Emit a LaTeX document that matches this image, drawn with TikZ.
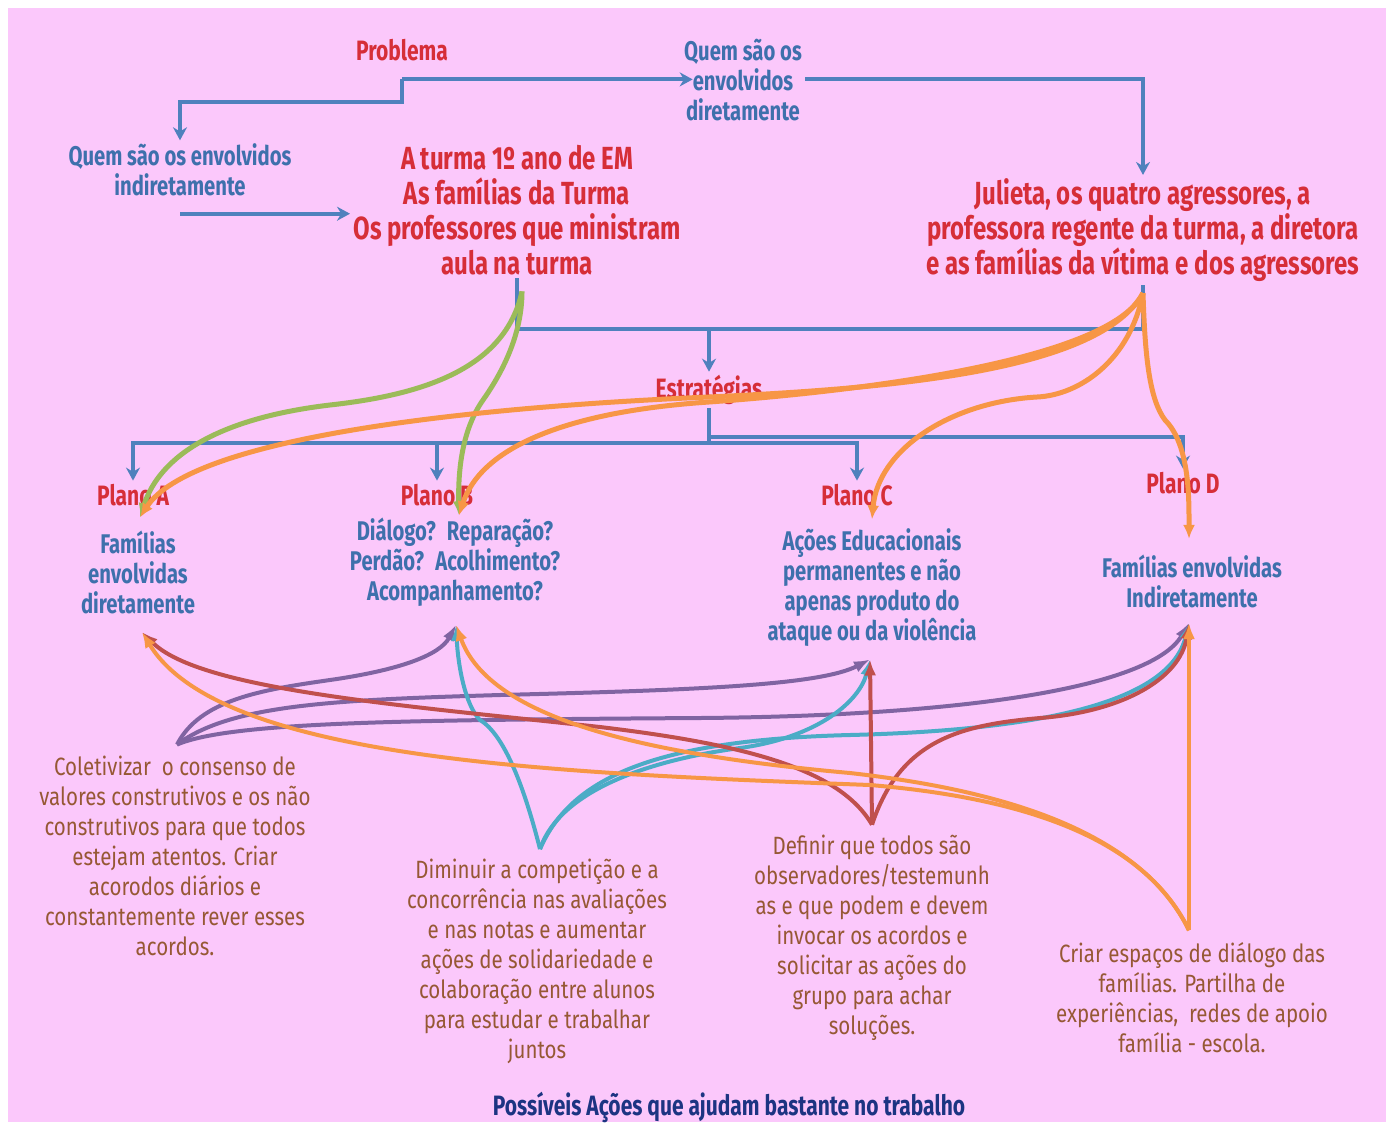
\documentclass[tikz,border=0pt]{standalone}
\usepackage{fontspec}
\setmainfont{Fira Sans}
\newfontfamily\headfont{Fira Sans}[FakeStretch=0.75]
\newfontfamily\handfont{Fira Sans}[FakeStretch=0.82]
\usetikzlibrary{arrows.meta,positioning}

\definecolor{bgpink}{RGB}{251,200,251}
\definecolor{linkblue}{RGB}{79,129,189}
\definecolor{headred}{RGB}{214,46,56}
\definecolor{textblue}{RGB}{62,112,172}
\definecolor{notebrown}{RGB}{150,88,52}
\definecolor{officegreen}{RGB}{155,187,89}
\definecolor{officeorange}{RGB}{247,150,70}
\definecolor{officepurple}{RGB}{128,100,162}
\definecolor{officered}{RGB}{192,80,77}
\definecolor{officeteal}{RGB}{75,172,198}
\definecolor{titleblue}{RGB}{28,52,130}

\tikzset{
  rail/.style={draw=linkblue,line width=4pt},
  link/.style={rail,-{Stealth[length=13pt,width=14pt]}},
  redhead/.style={font=\headfont\bfseries\fontsize{32}{35}\selectfont,text=headred,align=center},
  redsmall/.style={font=\headfont\bfseries\fontsize{28}{30}\selectfont,text=headred},
  bluehead/.style={font=\headfont\bfseries\fontsize{27}{30}\selectfont,text=textblue,align=center},
  note/.style={font=\handfont\fontsize{25}{30}\selectfont,text=notebrown,align=center},
  bigflow/.style={line width=5pt,-{Latex[length=14pt,width=12pt]}},
  flow/.style={line width=4pt,-{Latex[length=16pt,width=12pt]}},
}

\begin{document}
\begin{tikzpicture}[x=1pt,y=-1pt]
  \useasboundingbox (0,0) rectangle (1386,1122);
  %% background
  \fill[white] (0,0) rectangle (1386,1122);
  \fill[bgpink] (8,8) rectangle (1386,1122);

  %% who is involved
  \node[redsmall] (problema) at (402,50) {Problema};
  \node[bluehead] (quemdir) at (743,80) {Quem são os\\envolvidos\\diretamente};
  \node[bluehead] (quemind) at (180,170) {Quem são os envolvidos\\indiretamente};
  \node[redhead] (turma) at (517,210) {A turma 1º ano de EM\\As famílias da Turma\\Os professores que ministram\\aula na turma};
  \node[redhead] (julieta) at (1143,230) {Julieta, os quatro agressores, a\\professora regente da turma, a diretora\\e as famílias da vítima e dos agressores};

  %% strategies and plans
  \node[redsmall] (estrat) at (709,390) {Estratégias};
  \node[redsmall] (planoA) at (133,495) {Plano A};
  \node[redsmall] (planoB) at (437,495) {Plano B};
  \node[redsmall] (planoC) at (857,495) {Plano C};
  \node[redsmall] (planoD) at (1183,483) {Plano D};
  \node[bluehead] (famdir) at (138,572) {Famílias\\envolvidas\\diretamente};
  \node[bluehead] (dialogo) at (455,562) {Diálogo?~ Reparação?\\Perdão?~ Acolhimento?\\Acompanhamento?};
  \node[bluehead] (acoes) at (872,588) {Ações Educacionais\\permanentes e não\\apenas produto do\\ataque ou da violência};
  \node[bluehead] (famind) at (1192,581) {Famílias envolvidas\\Indiretamente};

  %% actions
  \node[note] (colet) at (175,856) {Coletivizar~ o consenso de\\valores construtivos e os não\\construtivos para que todos\\estejam atentos. Criar\\acorodos diários e\\constantemente rever esses\\acordos.};
  \node[note] (dimin) at (537,961) {Diminuir a competição e a\\concorrência nas avaliações\\e nas notas e aumentar\\ações de solidariedade e\\colaboração entre alunos\\para estudar e trabalhar\\juntos};
  \node[note] (defin) at (872,938) {Definir que todos são\\observadores/testemunh\\as e que podem e devem\\invocar os acordos e\\solicitar as ações do\\grupo para achar\\soluções.};
  \node[note] (criar) at (1192,998) {Criar espaços de diálogo das\\famílias. Partilha de\\experiências,~ redes de apoio\\família - escola.};
  \node[font=\headfont\bfseries\fontsize{28}{30}\selectfont,text=titleblue] (titulo) at (729,1107) {Possíveis Ações que ajudam bastante no trabalho};

  %% ports
  \coordinate[below=15pt of problema] (split);
  \coordinate[below=14pt of quemind] (qi);
  \coordinate[above=43pt of estrat] (toprail);
  \coordinate[below=35pt of estrat] (midrail);
  \coordinate[below=13pt of turma,xshift=5pt] (turma out);
  \coordinate[below=8pt of julieta] (julieta out);
  \coordinate[below=8pt of planoA,xshift=7pt] (planoA in);
  \coordinate[below=6pt of planoB,xshift=22pt] (planoB in);
  \coordinate[below=10pt of planoC,xshift=15pt] (planoC in);
  \coordinate[above=12pt of famind,xshift=-3pt] (planoD in);
  \coordinate[below=15pt of famdir,xshift=4pt] (famdir in);
  \coordinate[below=15pt of dialogo,xshift=1pt] (dialogo in);
  \coordinate[below=9pt of acoes,xshift=-2pt] (acoes in);
  \coordinate[below=12pt of famind,xshift=-3pt] (famind in);
  \coordinate[above=8pt of colet,xshift=2pt] (colet out);
  \coordinate[above=6pt of dimin,xshift=3pt] (dimin out);
  \coordinate[above=7pt of defin] (defin out);
  \coordinate[above=9pt of criar,xshift=-3pt] (criar out);

  %% blue tree
  \draw[link,shorten >=-12pt] (split) -- (quemdir.west |- split);
  \draw[link] (split) -- ++(0,23) -| (quemind.north);
  \draw[link] (quemdir.east |- split) -| (julieta.north);
  \draw[link] (qi) -- (qi -| turma.west);
  \draw[rail] (turma.south) |- (toprail -| julieta.south) -- (julieta.south);
  \draw[link] (toprail) -- (estrat.north);
  \draw[rail] (estrat.south) -- (midrail);
  \foreach \p in {planoA,planoB,planoC}
    \draw[link] (midrail) -| (\p.north);
  \draw[link] ([yshift=6pt]midrail) -| (planoD.north);

  %% who goes into which plan
  \draw[bigflow,officegreen] (turma out) .. controls (505,370) and (420,395) .. (330,405) .. controls (220,418) and (160,455) .. (planoA in);
  \draw[bigflow,officegreen] (turma out) .. controls (522,340) and (497,380) .. (483,400) .. controls (462,430) and (458,470) .. (planoB in);
  \draw[bigflow,officeorange] (julieta out) .. controls (1100,370) and (900,388) .. (709,397) .. controls (450,408) and (190,440) .. (planoA in);
  \draw[bigflow,officeorange] (julieta out) .. controls (1110,362) and (850,392) .. (709,402) .. controls (560,412) and (480,450) .. (planoB in);
  \draw[bigflow,officeorange] (julieta out) .. controls (1130,360) and (1080,395) .. (1037,397) .. controls (950,402) and (878,450) .. (planoC in);
  \draw[bigflow,officeorange] (julieta out) .. controls (1145,360) and (1150,400) .. (1165,420) .. controls (1190,445) and (1189,500) .. (planoD in);

  %% actions feeding the plans
  \draw[flow,officepurple] (colet out) .. controls (200,700) and (260,690) .. (330,680) .. controls (400,670) and (440,655) .. (dialogo in);
  \draw[flow,officepurple] (colet out) .. controls (230,705) and (330,700) .. (500,695) .. controls (700,690) and (820,685) .. (acoes in);
  \draw[flow,officepurple] (colet out) .. controls (230,722) and (400,720) .. (700,718) .. controls (950,716) and (1150,690) .. (famind in);
  \draw[flow,officeteal] (dimin out) .. controls (525,790) and (505,735) .. (480,720) .. controls (465,705) and (458,665) .. (dialogo in);
  \draw[flow,officeteal] (dimin out) .. controls (560,790) and (650,760) .. (740,748) .. controls (820,737) and (860,700) .. (acoes in);
  \draw[flow,officeteal] (dimin out) .. controls (570,780) and (650,740) .. (850,735) .. controls (1050,730) and (1170,700) .. (famind in);
  \draw[flow,officered] (defin out) -- (acoes in);
  \draw[flow,officered] (defin out) .. controls (840,770) and (750,745) .. (600,727) .. controls (400,705) and (200,690) .. (famdir in);
  \draw[flow,officered] (defin out) .. controls (900,740) and (960,725) .. (1040,718) .. controls (1120,712) and (1180,680) .. (famind in);
  \draw[flow,officeorange] (criar out) -- (famind in);
  \draw[flow,officeorange] (criar out) .. controls (1150,850) and (1050,800) .. (870,785) .. controls (550,773) and (220,760) .. (famdir in);
  \draw[flow,officeorange] (criar out) .. controls (1140,830) and (1000,790) .. (850,773) .. controls (650,755) and (490,720) .. (dialogo in);
\end{tikzpicture}
\end{document}
